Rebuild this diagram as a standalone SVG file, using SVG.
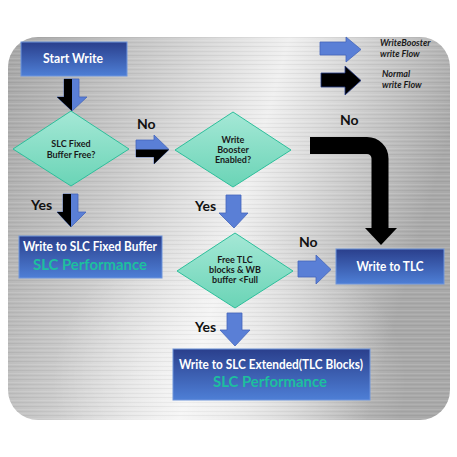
<svg xmlns="http://www.w3.org/2000/svg" width="457" height="457" viewBox="0 0 457 457">
<defs>
<linearGradient id="metal" x1="0" y1="0" x2="1" y2="0.25">
<stop offset="0" stop-color="#a6a6a6"/>
<stop offset="0.3" stop-color="#c9c9c9"/>
<stop offset="0.6" stop-color="#f0f0f0"/>
<stop offset="0.85" stop-color="#c4c4c4"/>
<stop offset="1" stop-color="#a9a9a9"/>
</linearGradient>
<radialGradient id="glow" cx="0.5" cy="0.9" r="0.4">
<stop offset="0" stop-color="#ffffff" stop-opacity="0.6"/>
<stop offset="1" stop-color="#ffffff" stop-opacity="0"/>
</radialGradient>
<pattern id="brush" width="457" height="9" patternUnits="userSpaceOnUse">
<rect x="0" y="1" width="457" height="1" fill="#000" opacity="0.05"/>
<rect x="0" y="4" width="457" height="1" fill="#fff" opacity="0.12"/>
<rect x="0" y="6" width="457" height="1" fill="#000" opacity="0.04"/>
<rect x="0" y="8" width="457" height="1" fill="#fff" opacity="0.08"/>
</pattern>
<linearGradient id="boxg" x1="0" y1="0" x2="0" y2="1">
<stop offset="0" stop-color="#2a3f8c"/>
<stop offset="1" stop-color="#4e7fd6"/>
</linearGradient>
<linearGradient id="diag" x1="0" y1="0" x2="0" y2="1">
<stop offset="0" stop-color="#a5e8d6"/>
<stop offset="1" stop-color="#6ad4b6"/>
</linearGradient>
<style>
.box{fill:url(#boxg);stroke:#6f95dc;stroke-width:1}
.dia{fill:url(#diag);stroke:#2dbf9b;stroke-width:1}
.wt{font-family:Lato,"Liberation Sans",sans-serif;font-weight:bold;fill:#ffffff;text-anchor:middle}
.perf{font-family:Lato,"Liberation Sans",sans-serif;font-weight:bold;fill:#1dbf9e;text-anchor:middle;font-size:15.5px}
.dt{font-family:Lato,"Liberation Sans",sans-serif;font-weight:bold;fill:#1a1a1a;text-anchor:middle;font-size:9px}
.lbl{font-family:Lato,"Liberation Sans",sans-serif;font-weight:bold;fill:#111;font-size:14px}
.leg{font-family:Lato,"Liberation Sans",sans-serif;font-weight:bold;font-style:italic;fill:#1a1a1a;font-size:9px}
.ba{fill:#5a7fd6;stroke:#4466bb;stroke-width:0.8}
.bk{fill:#000}
</style>
</defs>
<g id="background">
<rect x="8" y="37" width="442" height="383" rx="30" fill="url(#metal)"/>
<rect x="8" y="37" width="442" height="383" rx="30" fill="url(#glow)"/>
<rect x="8" y="37" width="442" height="383" rx="30" fill="url(#brush)"/>
</g>
<g id="legend">
<polygon class="ba" points="320,42 346,42 346,37 361,49.5 346,62 346,55 320,55"/>
<text class="leg" x="380" y="46">WriteBooster</text>
<text class="leg" x="380" y="57">write Flow</text>
<polygon class="bk" stroke="#2a3f8c" stroke-width="0.8" points="321,73 345,73 345,66 361,80.5 345,95 345,87 321,87"/>
<text class="leg" x="382" y="77">Normal</text>
<text class="leg" x="382" y="88">write Flow</text>
</g>
<g id="connectors">
<polygon class="ba" points="64,79 79,79 79,97 87,97 72,111 57,97 64,97"/>
<polygon class="bk" points="64,79 72,79 72,111 57,97 64,97"/>
<polygon class="ba" points="136,140 154,140 154,135 169,149.5 154,164 154,157 136,157"/>
<polygon class="bk" points="136,149.5 169,149.5 154,164 154,157 136,157"/>
<polygon class="ba" points="63,194 78,194 78,212 86,212 71,227 57,212 63,212"/>
<polygon class="bk" points="63,194 71,194 71,227 57,212 63,212"/>
<polygon class="ba" points="226,195 241,195 241,213 248,213 234,228 219,213 226,213"/>
<polygon class="ba" points="227,313 242,313 242,330 250,330 235,346 220,330 227,330"/>
<polygon class="ba" points="298,261 316,261 316,255 331,269.5 316,284 316,277 298,277"/>
<path d="M310,145.5 H367 A13,13 0 0 1 380,158.5 V229" fill="none" stroke="#000" stroke-width="17"/>
<polygon class="bk" points="365,228 397,228 381,245"/>
<text class="lbl" x="137" y="129">No</text>
<text class="lbl" x="31" y="210">Yes</text>
<text class="lbl" x="195" y="211">Yes</text>
<text class="lbl" x="340" y="125">No</text>
<text class="lbl" x="299" y="247">No</text>
<text class="lbl" x="195" y="332">Yes</text>
</g>
<g id="start">
<rect class="box" x="21" y="42" width="106" height="34"/>
<text class="wt" x="73" y="63" font-size="14" textLength="60" lengthAdjust="spacingAndGlyphs">Start Write</text>
</g>
<g id="slc-fixed-free">
<polygon class="dia" points="71,111 129,149 71,186 13,149"/>
<text class="dt" x="71" y="147">SLC Fixed</text>
<text class="dt" x="71" y="158">Buffer Free?</text>
</g>
<g id="wb-enabled">
<polygon class="dia" points="233,112 291,150 233,187 175,150"/>
<text class="dt" x="233" y="143">Write</text>
<text class="dt" x="233" y="153">Booster</text>
<text class="dt" x="233" y="163">Enabled?</text>
</g>
<g id="write-slc-fixed">
<rect class="box" x="19" y="236" width="143" height="42"/>
<text class="wt" x="90" y="251" font-size="13" textLength="134" lengthAdjust="spacingAndGlyphs">Write to SLC Fixed Buffer</text>
<text class="perf" x="90" y="270" textLength="114" lengthAdjust="spacingAndGlyphs">SLC Performance</text>
</g>
<g id="free-tlc">
<polygon class="dia" points="235,233 293,271 235,308 177,271"/>
<text class="dt" x="235" y="263">Free TLC</text>
<text class="dt" x="235" y="273">blocks &amp; WB</text>
<text class="dt" x="235" y="283">buffer &lt;Full</text>
</g>
<g id="write-tlc">
<rect class="box" x="336" y="249" width="108" height="35"/>
<text class="wt" x="390" y="271" font-size="13.5" textLength="67" lengthAdjust="spacingAndGlyphs">Write to TLC</text>
</g>
<g id="write-slc-extended">
<rect class="box" x="173" y="349" width="197" height="51"/>
<text class="wt" x="271" y="369" font-size="13" textLength="184" lengthAdjust="spacingAndGlyphs">Write to SLC Extended(TLC Blocks)</text>
<text class="perf" x="270" y="387" textLength="114" lengthAdjust="spacingAndGlyphs">SLC Performance</text>
</g>
</svg>
